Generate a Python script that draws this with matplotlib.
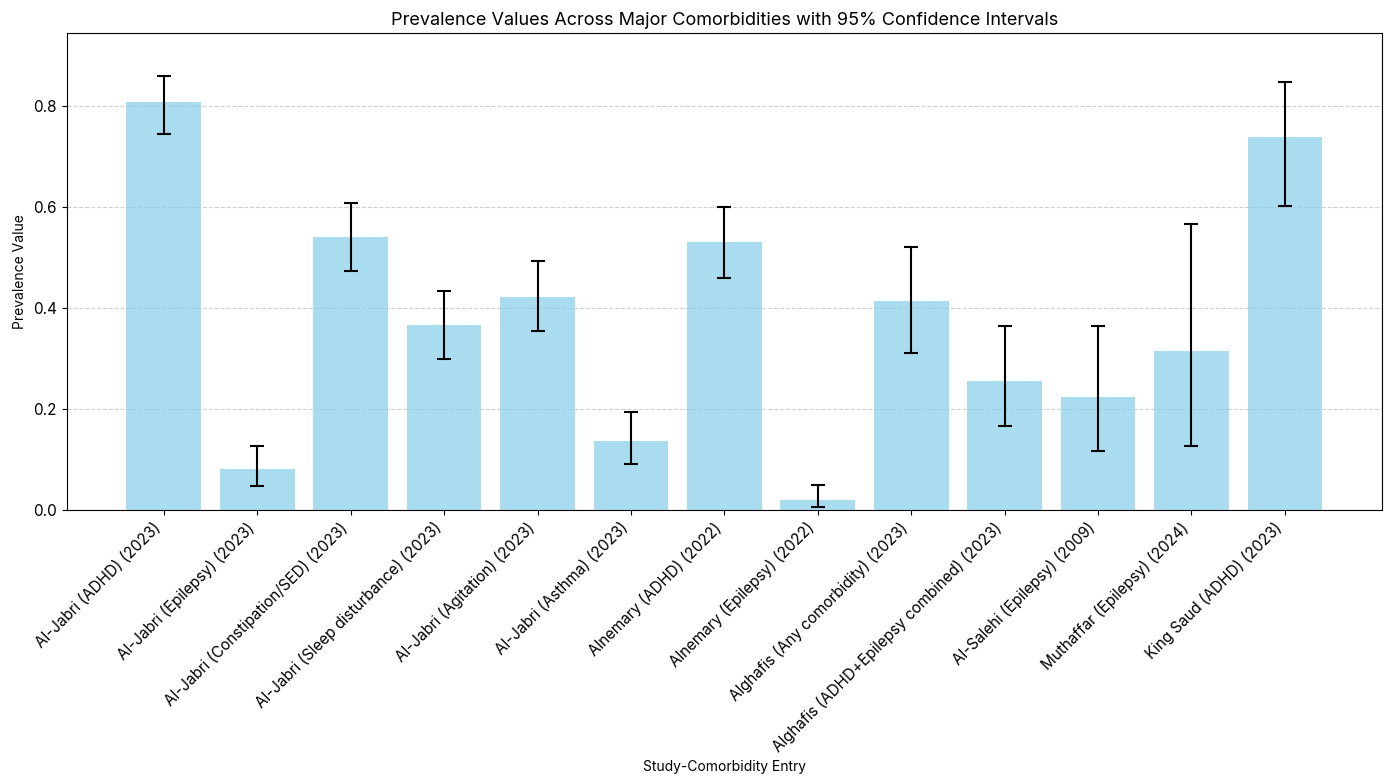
import matplotlib
matplotlib.use("Agg")
import matplotlib.pyplot as plt
import numpy as np

plt.rcParams['font.family'] = ['Inter', 'DejaVu Sans']

labels = [
    "Al-Jabri (ADHD) (2023)",
    "Al-Jabri (Epilepsy) (2023)",
    "Al-Jabri (Constipation/SED) (2023)",
    "Al-Jabri (Sleep disturbance) (2023)",
    "Al-Jabri (Agitation) (2023)",
    "Al-Jabri (Asthma) (2023)",
    "Alnemary (ADHD) (2022)",
    "Alnemary (Epilepsy) (2022)",
    "Alghafis (Any comorbidity) (2023)",
    "Alghafis (ADHD+Epilepsy combined) (2023)",
    "Al-Salehi (Epilepsy) (2009)",
    "Muthaffar (Epilepsy) (2024)",
    "King Saud (ADHD) (2023)",
]
prevalence = [0.808, 0.081, 0.542, 0.367, 0.423, 0.137, 0.532, 0.020, 0.415, 0.256, 0.224, 0.316, 0.740]
ci_lower = [0.746, 0.047, 0.474, 0.299, 0.355, 0.091, 0.459, 0.006, 0.311, 0.166, 0.116, 0.126, 0.603]
ci_upper = [0.860, 0.126, 0.609, 0.435, 0.494, 0.194, 0.601, 0.049, 0.521, 0.365, 0.365, 0.566, 0.849]

prev = np.array(prevalence)
lo = prev - np.array(ci_lower)
hi = np.array(ci_upper) - prev

fig, ax = plt.subplots(figsize=(13.89, 7.82), dpi=100)
x = np.arange(len(labels))
ax.bar(x, prev, color='skyblue', alpha=0.7, width=0.8)
ax.errorbar(x, prev, yerr=[lo, hi], fmt='none', ecolor='black', capsize=5, elinewidth=1.5, capthick=1.5)
ax.set_xticks(x)
ax.set_xticklabels(labels, rotation=45, ha='right', fontsize=11)
ax.tick_params(axis='y', labelsize=11)
ax.set_ylim(0, max(ci_upper) * 1.1)
ax.set_ylabel("Prevalence Value", fontsize=10)
ax.set_xlabel("Study-Comorbidity Entry", fontsize=10)
ax.set_title("Prevalence Values Across Major Comorbidities with 95% Confidence Intervals", fontsize=13)
ax.yaxis.grid(True, linestyle='--', alpha=0.6)
ax.set_axisbelow(True)
fig.subplots_adjust(left=0.048, right=0.995, top=0.958, bottom=0.348)
fig.savefig("out.png", dpi=100)
